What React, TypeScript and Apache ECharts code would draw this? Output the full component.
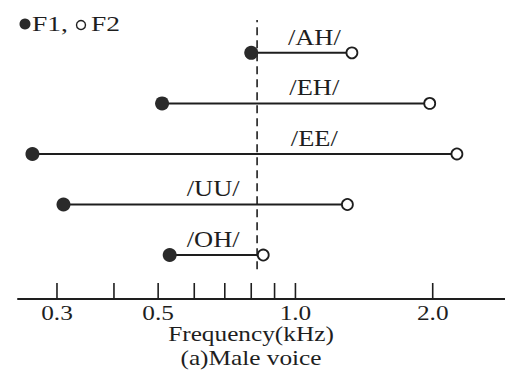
import React, { useEffect, useRef } from "react";
import * as echarts from "echarts";

// Vowels from bottom row (1) to top row (5)
const vowels = ["/OH/", "/UU/", "/EE/", "/EH/", "/AH/"];
const f1 = [0.53, 0.31, 0.265, 0.51, 0.8]; // kHz, filled dots
const f2 = [0.85, 1.3, 2.26, 1.97, 1.33]; // kHz, open dots
const labelFreq = [0.66, 0.66, 1.1, 1.1, 1.1]; // where each vowel name sits
const divider = 0.824; // dashed vertical line (kHz)

const tickValues = [0.3, 0.4, 0.5, 0.6, 0.7, 0.8, 0.9, 1.0, 2.0];
const tickLabels = ["0.3", "", "0.5", "", "", "", "", "1.0", "2.0"];

const X_MIN = 0.2464;
const X_MAX = 2.881;
const Y_MIN = 0.13;
const Y_MAX = 5.65;

const FONT = '"Liberation Serif", "DejaVu Serif", serif';
const INK = "#1e1e1e";
const SX = 1.15;

function txt(text: string, x: number, y: number, align = "center", size = 23): any {
  return {
    type: "text",
    x,
    y,
    scaleX: SX,
    style: { text, font: `${size}px ${FONT}`, fill: INK, align, verticalAlign: "middle" },
  };
}

export default function App() {
  const ref = useRef<HTMLDivElement>(null);
  useEffect(() => {
    if (!ref.current) return;
    document.body.style.margin = "0";
    const chart = echarts.init(ref.current, null, { renderer: "svg" });
    const rows = vowels.map((_, i) => i + 1);
    const option: any = {
      animation: false,
      backgroundColor: "#fff",
      grid: { left: 18, right: 0, top: 20, bottom: 92 },
      xAxis: {
        type: "log",
        logBase: 10,
        min: X_MIN,
        max: X_MAX,
        axisLine: { lineStyle: { color: INK, width: 2 } },
        axisTick: { show: false },
        axisLabel: { show: false },
        splitLine: { show: false },
      },
      yAxis: { type: "value", min: Y_MIN, max: Y_MAX, show: false },
      graphic: [
        { type: "circle", shape: { cx: 25, cy: 24, r: 5.5 }, style: { fill: "#2a2a2a" } },
        { ...txt("F1,", 32, 23, "left", 22), scaleX: 1.25 },
        { type: "circle", shape: { cx: 81, cy: 25, r: 4.5 }, style: { fill: "#fff", stroke: INK, lineWidth: 1.4 } },
        { ...txt("F2", 91, 23, "left", 22), scaleX: 1.25 },
        txt("Frequency(kHz)", 251, 334, "center", 22),
        txt("(a)Male voice", 251, 358, "center", 22),
      ],
      series: [
        {
          type: "custom",
          name: "ticks",
          data: tickValues.map((v, i) => [v, Y_MIN, i]),
          encode: { x: 0, y: 1 },
          clip: false,
          renderItem: (params: any, api: any) => {
            const v = api.value(0);
            const idx = api.value(2);
            const p = api.coord([v, Y_MIN]);
            const children: any[] = [
              {
                type: "line",
                shape: { x1: p[0], y1: p[1], x2: p[0], y2: p[1] - 16 },
                style: { stroke: INK, lineWidth: 1.6 },
              },
            ];
            const lab = tickLabels[idx];
            if (lab) {
              children.push(txt(lab, p[0], p[1] + 14, "center", 22));
            }
            return { type: "group", children };
          },
        },
        {
          type: "line",
          name: "divider",
          data: [
            [divider, 0.72],
            [divider, Y_MAX],
          ],
          symbol: "none",
          lineStyle: { color: INK, width: 1.6, type: [8, 5] },
          z: 1,
        },
        {
          type: "custom",
          name: "segments",
          data: vowels.map((_, i) => [f1[i], f2[i], rows[i], labelFreq[i], i]),
          encode: { x: [0, 1], y: 2 },
          clip: false,
          z: 2,
          renderItem: (params: any, api: any) => {
            const a = api.coord([api.value(0), api.value(2)]);
            const b = api.coord([api.value(1), api.value(2)]);
            const l = api.coord([api.value(3), api.value(2)]);
            const idx = api.value(4);
            return {
              type: "group",
              children: [
                {
                  type: "line",
                  shape: { x1: a[0], y1: a[1], x2: b[0], y2: b[1] },
                  style: { stroke: INK, lineWidth: 2 },
                },
                txt(vowels[idx], l[0], l[1] - 16, "center", 23),
              ],
            };
          },
        },
        {
          type: "scatter",
          name: "F1",
          data: f1.map((v, i) => [v, rows[i]]),
          symbol: "circle",
          symbolSize: 14,
          itemStyle: { color: "#2a2a2a", opacity: 1 },
          z: 3,
        },
        {
          type: "scatter",
          name: "F2",
          data: f2.map((v, i) => [v, rows[i]]),
          symbol: "circle",
          symbolSize: 11,
          itemStyle: { color: "#fff", borderColor: INK, borderWidth: 1.8, opacity: 1 },
          z: 3,
        },
      ],
    };
    chart.setOption(option);
    return () => chart.dispose();
  }, []);
  return <div ref={ref} style={{ position: "absolute", left: 0, top: 0, width: 505, height: 391 }} />;
}
